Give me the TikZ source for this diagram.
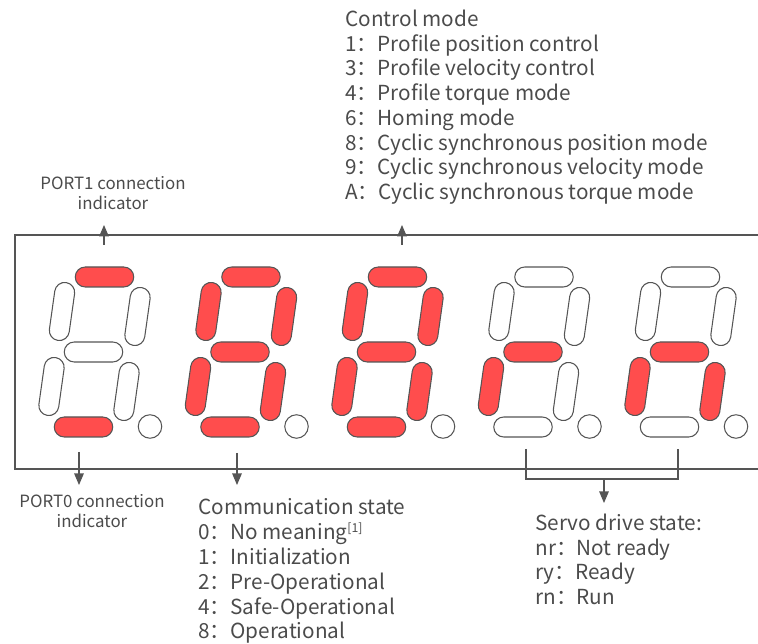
\documentclass[tikz,border=0pt]{standalone}
\usepackage{fontspec}
\setmainfont{Noto Sans CJK SC}
\usetikzlibrary{shapes.misc, arrows.meta}
\definecolor{segred}{RGB}{255,77,77}
\definecolor{linegray}{RGB}{85,85,85}
\definecolor{textgray}{RGB}{75,75,75}

\begin{document}
\begin{tikzpicture}[x=0.02cm, y=-0.02cm,
	seg/.style={rounded rectangle, draw=linegray, line width=0.6pt, minimum width=1.17cm, minimum height=0.4cm, inner sep=0pt},
	vseg/.style={seg, rotate=82},
	segon/.style={fill=segred},
	segoff/.style={fill=white},
	segdot/.style={circle, draw=linegray, line width=0.6pt, fill=white, minimum size=0.47cm, inner sep=0pt},
	arr/.style={-{Triangle[length=0.23cm, width=0.19cm]}, draw=linegray, line width=0.6pt},
	txt/.style={text=textgray, font=\fontsize{11.8}{14.1}\selectfont, align=left, inner sep=0pt},
	lbl/.style={text=textgray, font=\fontsize{9.6}{11.4}\selectfont, align=center, inner sep=0pt}]
	\useasboundingbox (0,0) rectangle (758,644);

	% display frame, open on the right
	\draw[linegray, line width=0.6pt] (758,235) -- (15,235) -- (15,469) -- (758,469);

	% five digits: top, upper left, upper right, middle, lower left, lower right, bottom
	\foreach \dx/\a/\b/\c/\d/\e/\f/\g [count=\i] in {
			104.5/segon/segoff/segoff/segoff/segoff/segoff/segon,
			251/segon/segon/segon/segon/segon/segon/segon,
			397.5/segon/segon/segon/segon/segon/segon/segon,
			544/segoff/segoff/segoff/segon/segon/segoff/segoff,
			690.5/segoff/segoff/segoff/segon/segon/segon/segoff}{
		\node[seg, \a] (top\i) at (\dx,277) {};
		\node[vseg, \b] (ul\i) at (\dx-42.5,311.5) {};
		\node[vseg, \c] (ur\i) at (\dx+33,316.5) {};
		\node[seg, \d] (mid\i) at (\dx-11,352) {};
		\node[vseg, \e] (ll\i) at (\dx-53,386.5) {};
		\node[vseg, \f] (lr\i) at (\dx+22,391.5) {};
		\node[seg, \g] (bot\i) at (\dx-21,427) {};
		\node[segdot] (dp\i) at (\dx+45.5,426.5) {};
	}

	% labels
	\node[lbl] (port1) at (113,193) {PORT1 connection\\indicator};
	\node[lbl] (port0) at (92,511) {PORT0 connection\\indicator};
	\node[txt, anchor=north west] (mode) at (345,9.5) {Control mode\\1：Profile position control\\3：Profile velocity control\\4：Profile torque mode\\6：Homing mode\\8：Cyclic synchronous position mode\\9：Cyclic synchronous velocity mode\\A：Cyclic synchronous torque mode};
	\node[txt, anchor=north west] (comm) at (198,498.5) {Communication state\\0：No meaning\textsuperscript{\scriptsize[1]}\\1：Initialization\\2：Pre-Operational\\4：Safe-Operational\\8：Operational};
	\node[txt, anchor=north west] (servo) at (535,513.5) {Servo drive state:\\nr：Not ready\\ry：Ready\\rn：Run};

	% connectors
	\coordinate (p1a) at (104,245);
	\coordinate (p1b) at (104,225);
	\coordinate (cma) at (402,245);
	\coordinate (cmb) at (402,225);
	\coordinate (p0a) at (79,452);
	\coordinate (p0b) at (79,485);
	\coordinate (csa) at (237,453);
	\coordinate (csb) at (237,485);
	\coordinate (sva) at (526,449);
	\coordinate (svb) at (678,449);
	\coordinate (svm) at (604,479);
	\coordinate (svt) at (604,503);
	\draw[arr] (p1a) -- (p1b);
	\draw[arr] (cma) -- (cmb);
	\draw[arr] (p0a) -- (p0b);
	\draw[arr] (csa) -- (csb);
	\draw[linegray, line width=0.6pt] (sva) -- (sva |- svm) -- (svb |- svm) -- (svb);
	\draw[arr] (svm) -- (svt);
\end{tikzpicture}
\end{document}
